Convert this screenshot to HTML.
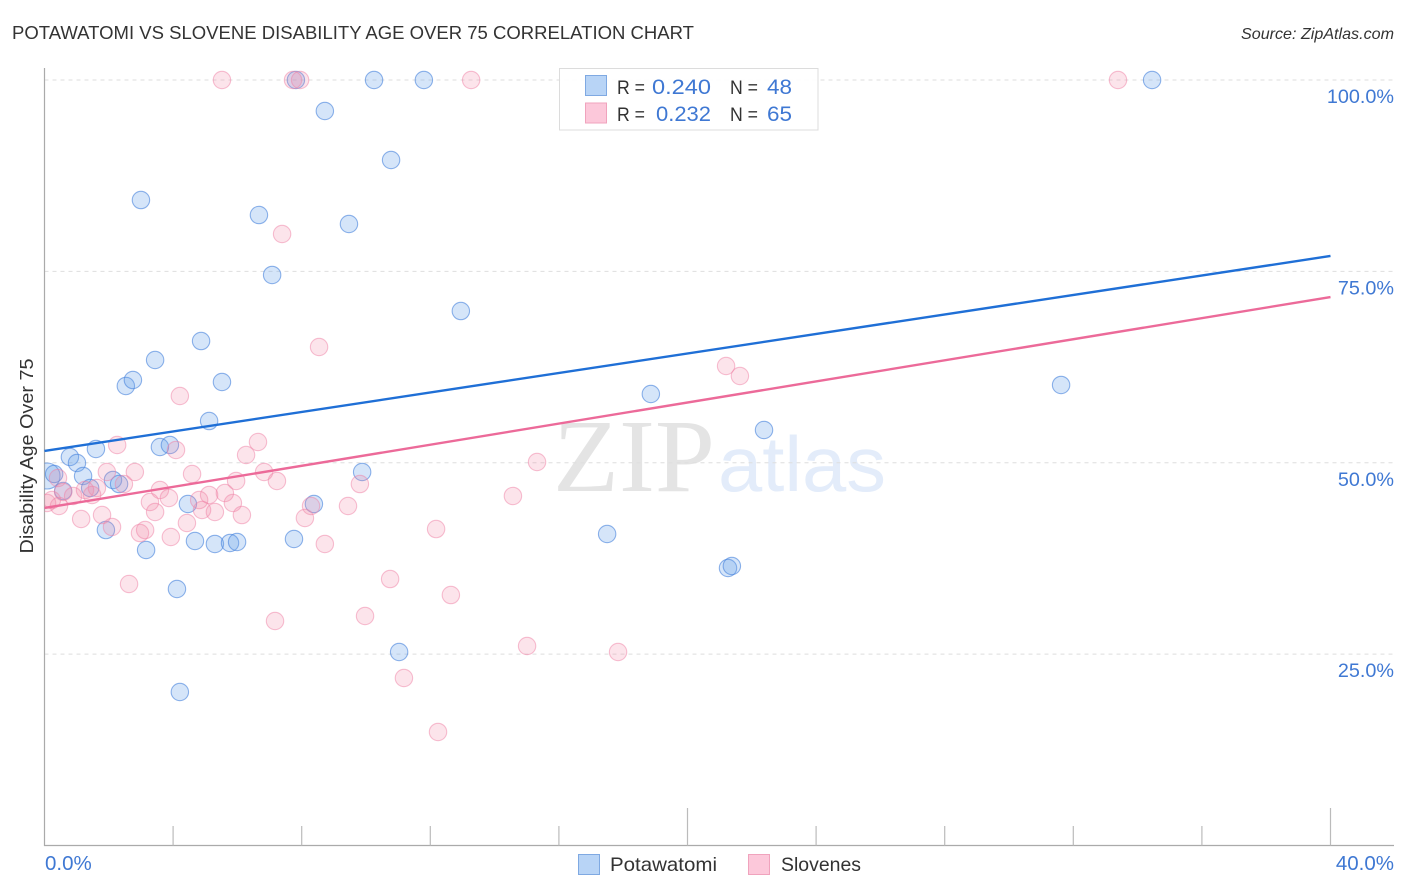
<!DOCTYPE html>
<html>
<head>
<meta charset="utf-8">
<title>Potawatomi vs Slovene Disability Age Over 75 Correlation Chart</title>
<style>
html,body{margin:0;padding:0;background:#fff;width:1406px;height:892px;overflow:hidden}
svg{display:block}
text{font-family:"Liberation Sans",sans-serif}
</style>
</head>
<body>
<svg id="chart" width="1406" height="892" viewBox="0 0 1406 892" xmlns="http://www.w3.org/2000/svg">
<defs><clipPath id="plot-clip"><rect x="44.5" y="60" width="1350" height="786"/></clipPath></defs>
<text x="12" y="39" font-size="18.5" fill="#333" textLength="682" lengthAdjust="spacingAndGlyphs">POTAWATOMI VS SLOVENE DISABILITY AGE OVER 75 CORRELATION CHART</text>
<text x="1241" y="39" font-size="16" font-style="italic" fill="#333" textLength="153" lengthAdjust="spacingAndGlyphs">Source: ZipAtlas.com</text>
<text x="553" y="491" font-size="104" fill="#e4e4e4" style="font-family:'Liberation Serif',serif" textLength="162" lengthAdjust="spacingAndGlyphs">ZIP</text>
<text x="718" y="491" font-size="78" fill="#e3ecfa" textLength="168" lengthAdjust="spacingAndGlyphs">atlas</text>
<g id="grid"></g>
<g id="axes"></g>
<g id="marks" clip-path="url(#plot-clip)"></g>
<g id="trends"></g>
<text x="0" y="0" font-size="18" fill="#333" text-anchor="middle" transform="translate(33 456) rotate(-90)" textLength="195" lengthAdjust="spacingAndGlyphs">Disability Age Over 75</text>
<g>
<rect x="559.5" y="68.5" width="258.5" height="61.5" fill="#fff" fill-opacity="0.9" stroke="#dcdcdc" stroke-width="1"/>
<rect x="585.5" y="75.5" width="21" height="20" fill="#b8d4f6" stroke="#7fa9e2"/>
<rect x="585.5" y="103" width="21" height="20" fill="#fcc8da" stroke="#f0a3bd"/>
<text x="617" y="94" font-size="19.5" fill="#333" textLength="28" lengthAdjust="spacingAndGlyphs">R =</text>
<text x="652" y="94" font-size="21" fill="#3f78d3" textLength="59" lengthAdjust="spacingAndGlyphs">0.240</text>
<text x="730" y="94" font-size="19.5" fill="#333" textLength="28" lengthAdjust="spacingAndGlyphs">N =</text>
<text x="767" y="94" font-size="21" fill="#3f78d3" textLength="25" lengthAdjust="spacingAndGlyphs">48</text>
<text x="617" y="121" font-size="19.5" fill="#333" textLength="28" lengthAdjust="spacingAndGlyphs">R =</text>
<text x="656" y="121" font-size="21" fill="#3f78d3" textLength="55" lengthAdjust="spacingAndGlyphs">0.232</text>
<text x="730" y="121" font-size="19.5" fill="#333" textLength="28" lengthAdjust="spacingAndGlyphs">N =</text>
<text x="767" y="121" font-size="21" fill="#3f78d3" textLength="25" lengthAdjust="spacingAndGlyphs">65</text>
</g>
<g>
<rect x="578.5" y="854.5" width="21" height="20" fill="#b8d4f6" stroke="#7fa9e2"/>
<text x="610" y="871" font-size="19.5" fill="#333" textLength="107" lengthAdjust="spacingAndGlyphs">Potawatomi</text>
<rect x="748.5" y="854.5" width="21" height="20" fill="#fcc8da" stroke="#f0a3bd"/>
<text x="781" y="871" font-size="19.5" fill="#333" textLength="80" lengthAdjust="spacingAndGlyphs">Slovenes</text>
</g>
</svg>
<script>
const potawatomiX = [0.08,0.30,0.79,1.01,1.20,1.42,1.60,1.91,2.13,2.32,2.53,2.75,3.00,3.16,3.44,3.59,3.90,4.12,4.21,4.46,4.68,4.87,5.12,5.30,5.52,5.77,5.99,6.67,7.08,7.76,7.82,8.38,8.72,9.47,9.88,10.25,10.78,11.03,11.80,12.95,17.50,18.86,21.26,21.38,22.38,31.62,34.45,0.58];
const potawatomiY = [48.27,48.53,50.75,49.97,48.27,46.70,51.80,41.21,47.75,47.22,60.03,60.81,84.32,38.60,63.42,52.06,52.32,33.51,20.05,44.61,39.78,65.90,55.45,39.39,60.55,39.52,39.65,82.36,74.53,40.04,100,44.61,95.95,81.19,48.79,100,89.55,25.28,100,69.82,40.69,58.98,36.25,36.51,54.28,60.16,100,46.31];
const slovenesX = [5.52,7.73,7.95,13.27,33.39,7.39,8.54,21.20,21.63,4.21,2.26,4.09,6.64,6.27,4.59,6.83,7.23,2.81,1.94,2.47,5.96,15.32,9.81,14.57,3.59,3.87,4.81,5.12,5.61,3.28,5.86,9.44,3.44,4.90,5.30,6.14,8.29,8.10,4.43,1.79,1.14,2.10,2.97,3.13,3.93,8.72,12.18,2.63,10.75,12.64,7.17,9.97,15.01,17.84,11.18,12.24,0.58,0.89,1.48,1.63,0.23,0.45,0.08,1.26,0.42];
const slovenesY = [100,100,100,100,100,79.88,65.12,62.64,61.33,58.72,52.32,51.67,52.71,51.01,48.53,48.79,47.62,48.79,48.79,47.22,47.62,50.10,47.22,45.66,46.44,45.40,45.13,45.79,46.05,44.87,44.74,44.35,43.57,43.83,43.57,43.17,44.35,42.78,42.13,43.17,42.65,41.61,40.82,41.21,40.30,39.39,41.34,34.16,34.81,32.72,29.33,29.98,26.06,25.28,21.88,14.83,46.18,45.66,45.79,46.70,45.13,44.35,44.74,46.44,48.01];
const potawatomiTrend = [51.54,77.01];
const slovenesTrend = [44.09,71.65];
const trendDomain = [0,40];
const yTickValues = [25,50,75,100];
const yTickLabels = ['25.0%','50.0%','75.0%','100.0%'];
const xTickValues = [0,4,8,12,16,20,24,28,32,36,40];
const xMajorTicks = [0,20,40];
const xEndLabels = ['0.0%','40.0%'];

const sx = v => 44.5 + v * 32.15;
const sy = v => 845.5 - v * 7.655;
const NS = 'http://www.w3.org/2000/svg';
function mk(parent, tag, attrs){
  const el = document.createElementNS(NS, tag);
  for (const k in attrs) el.setAttribute(k, attrs[k]);
  parent.appendChild(el);
  return el;
}
const grid = document.getElementById('grid');
const axes = document.getElementById('axes');
const marks = document.getElementById('marks');
const trends = document.getElementById('trends');

yTickValues.forEach((v,i) => {
  const g = mk(grid,'line',{x1:44.5,x2:1394,y1:sy(v),y2:sy(v),stroke:'#dedede','stroke-width':1,'stroke-dasharray':'4 4'});
  
  
  const t = mk(axes,'text',{x:1394,y:sy(v)+23,'font-size':19.8,fill:'#3f78d3','text-anchor':'end'});
  t.textContent = yTickLabels[i];
  
  
});
const yAxis = mk(axes,'line',{x1:44.5,x2:44.5,y1:68,y2:846,stroke:'#aaa','stroke-width':1.2});


const xAxis = mk(axes,'line',{x1:44,x2:1394,y1:845.5,y2:845.5,stroke:'#aaa','stroke-width':1.2});


xTickValues.forEach(v => {
  if (v === 0) return;
  const tall = xMajorTicks.includes(v);
  const tk = mk(axes,'line',{x1:sx(v),x2:sx(v),y1:tall?808:826,y2:845.5,stroke:'#bbb','stroke-width':1.2});
  
  
});
const xl0 = mk(axes,'text',{x:45,y:870,'font-size':20.5,fill:'#3f78d3'});
xl0.textContent = xEndLabels[0];


const xl1 = mk(axes,'text',{x:1394,y:870,'font-size':20.5,fill:'#3f78d3','text-anchor':'end'});
xl1.textContent = xEndLabels[1];



potawatomiX.forEach((x,i) => {
  const c = mk(marks,'circle',{cx:sx(x),cy:sy(potawatomiY[i]),r:i===0?13:8.7,fill:'rgba(105,160,235,0.28)',stroke:'rgba(70,130,220,0.6)','stroke-width':1.1});
  
  
});
slovenesX.forEach((x,i) => {
  const c = mk(marks,'circle',{cx:sx(x),cy:sy(slovenesY[i]),r:8.7,fill:'rgba(240,130,165,0.22)',stroke:'rgba(240,130,165,0.5)','stroke-width':1.1});
  
  
});
const lineA = mk(trends,'line',{x1:sx(trendDomain[0]),y1:sy(potawatomiTrend[0]),x2:sx(trendDomain[1]),y2:sy(potawatomiTrend[1]),stroke:'#1f6fd6','stroke-width':2.4});


const lineB = mk(trends,'line',{x1:sx(trendDomain[0]),y1:sy(slovenesTrend[0]),x2:sx(trendDomain[1]),y2:sy(slovenesTrend[1]),stroke:'#ec6a99','stroke-width':2.4});


</script>
</body>
</html>
